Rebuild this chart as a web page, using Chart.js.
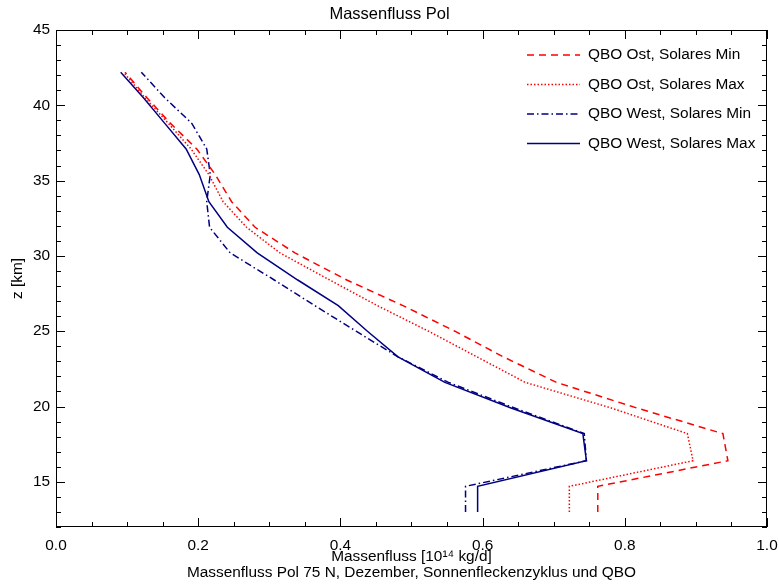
<!DOCTYPE html>
<html>
<head>
<meta charset="utf-8">
<script src="https://cdn.jsdelivr.net/npm/chart.js@4.4.1/dist/chart.umd.min.js"></script>
<style>
html,body{margin:0;padding:0;background:#fff;}
canvas{display:block;}
</style>
</head>
<body>
<canvas id="c" width="779" height="587"></canvas>
<script>
// ---- data ----
const altitude = [13.0,14.7,16.4,18.2,19.9,21.6,23.3,25.0,26.7,28.4,30.2,31.9,33.6,35.4,37.1,38.8,40.5,42.2];
const ostMin  = [0.762,0.762,0.945,0.938,0.817,0.704,0.629,0.561,0.488,0.409,0.336,0.280,0.247,0.224,0.198,0.161,0.128,0.097];
const ostMax  = [0.722,0.722,0.896,0.888,0.781,0.660,0.592,0.524,0.452,0.385,0.315,0.268,0.235,0.215,0.190,0.158,0.125,0.095];
const westMin = [0.576,0.576,0.746,0.743,0.645,0.552,0.481,0.422,0.364,0.307,0.245,0.216,0.212,0.217,0.212,0.191,0.153,0.120];
const westMax = [0.593,0.593,0.746,0.741,0.640,0.547,0.481,0.438,0.397,0.340,0.283,0.241,0.215,0.2015,0.183,0.153,0.123,0.091];
const seriesNames = ['QBO Ost, Solares Min','QBO Ost, Solares Max','QBO West, Solares Min','QBO West, Solares Max'];
const xTicks = [0.0,0.2,0.4,0.6,0.8,1.0];
const yTicks = [15,20,25,30,35,40,45];
const titleText = 'Massenfluss Pol';
const xTitle = ['Massenfluss [10\u00B9\u2074 kg/d]','Massenfluss Pol 75 N, Dezember, Sonnenfleckenzyklus und QBO'];
const yTitle = 'z [km]';

const FONT = "'Liberation Sans', Arial, Helvetica, sans-serif";
const FS = 15.4;
const RED = '#ff0000', NAVY = '#000080';

function pts(xs){ return xs.map((v,i)=>({x:v,y:altitude[i]})); }

const frame = {
  id:'frame',
  afterDraw(chart){
    const {ctx, chartArea:{left,right,top,bottom}, scales:{x,y}} = chart;
    ctx.save();
    // title
    ctx.font = "16.5px "+FONT; ctx.fillStyle='#000';
    ctx.textAlign='center'; ctx.textBaseline='middle';
    ctx.fillText(titleText, chart.width/2, 14);
    ctx.strokeStyle='#000'; ctx.lineWidth=1; ctx.setLineDash([]);
    ctx.strokeRect(left+0.5, top+0.5, right-left-1, bottom-top-1);
    ctx.beginPath();
    for(let v=0; v<=1.0001; v+=0.05){
      const px = Math.round(x.getPixelForValue(v))+0.5;
      const major = xTicks.some(t=>Math.abs(t-v)<1e-6);
      const L = major?9:5;
      ctx.moveTo(px,bottom); ctx.lineTo(px,bottom-L);
      ctx.moveTo(px,top); ctx.lineTo(px,top+L);
    }
    for(let v=12; v<=45; v+=1){
      const py = Math.round(y.getPixelForValue(v))+0.5;
      const major = yTicks.includes(v);
      const L = major?9:5;
      ctx.moveTo(left,py); ctx.lineTo(left+L,py);
      ctx.moveTo(right,py); ctx.lineTo(right-L,py);
    }
    ctx.stroke();
    // legend
    ctx.font = FS+"px "+FONT;
    ctx.textBaseline='middle'; ctx.textAlign='left'; ctx.fillStyle='#000';
    chart.data.datasets.forEach((ds,i)=>{
      const yy = 55 + i*29.5;
      ctx.beginPath();
      ctx.strokeStyle = ds.borderColor; ctx.lineWidth = ds.borderWidth;
      ctx.setLineDash(ds.borderDash||[]);
      ctx.moveTo(527,yy); ctx.lineTo(580,yy); ctx.stroke();
      ctx.setLineDash([]);
      ctx.fillText(ds.label, 588, yy);
    });
    ctx.restore();
  }
};

new Chart(document.getElementById('c'),{
  type:'scatter',
  data:{datasets:[
    {label:seriesNames[0], data:pts(ostMin),  borderColor:RED,  borderWidth:1.5, borderDash:[7,5]},
    {label:seriesNames[1], data:pts(ostMax),  borderColor:RED,  borderWidth:1.5, borderDash:[1.5,2]},
    {label:seriesNames[2], data:pts(westMin), borderColor:NAVY, borderWidth:1.5, borderDash:[7,3,1.5,3]},
    {label:seriesNames[3], data:pts(westMax), borderColor:NAVY, borderWidth:1.5, borderDash:[]}
  ].map(d=>Object.assign(d,{showLine:true,pointRadius:0,fill:false,tension:0,borderCapStyle:'butt'}))},
  options:{
    responsive:false, animation:false,
    layout:{padding:{left:0,right:12,top:30,bottom:0}},
    plugins:{
      legend:{display:false}, tooltip:{enabled:false}, title:{display:false}
    },
    scales:{
      x:{type:'linear',min:0,max:1,
        afterFit(s){s.height=60; s.paddingLeft=0; s.paddingRight=0;},
        afterBuildTicks(s){s.ticks = xTicks.map(v=>({value:v}));},
        grid:{display:false,drawTicks:false}, border:{display:false},
        ticks:{color:'#000',font:{family:FONT,size:FS},padding:10,maxRotation:0,autoSkip:false,callback:v=>Number(v).toFixed(1)},
        title:{display:true,text:xTitle,color:'#000',font:{family:FONT,size:FS,lineHeight:1.05},padding:{top:0,bottom:6}}
      },
      y:{type:'linear',min:12,max:45,
        afterFit(s){s.width=56; s.paddingTop=0; s.paddingBottom=0;},
        afterBuildTicks(s){s.ticks = yTicks.map(v=>({value:v}));},
        grid:{display:false,drawTicks:false}, border:{display:false},
        ticks:{color:'#000',font:{family:FONT,size:FS},padding:6,autoSkip:false},
        title:{display:true,text:yTitle,color:'#000',font:{family:FONT,size:FS,lineHeight:1.2},padding:{top:9,bottom:0}}
      }
    }
  },
  plugins:[frame]
});
</script>
</body>
</html>
